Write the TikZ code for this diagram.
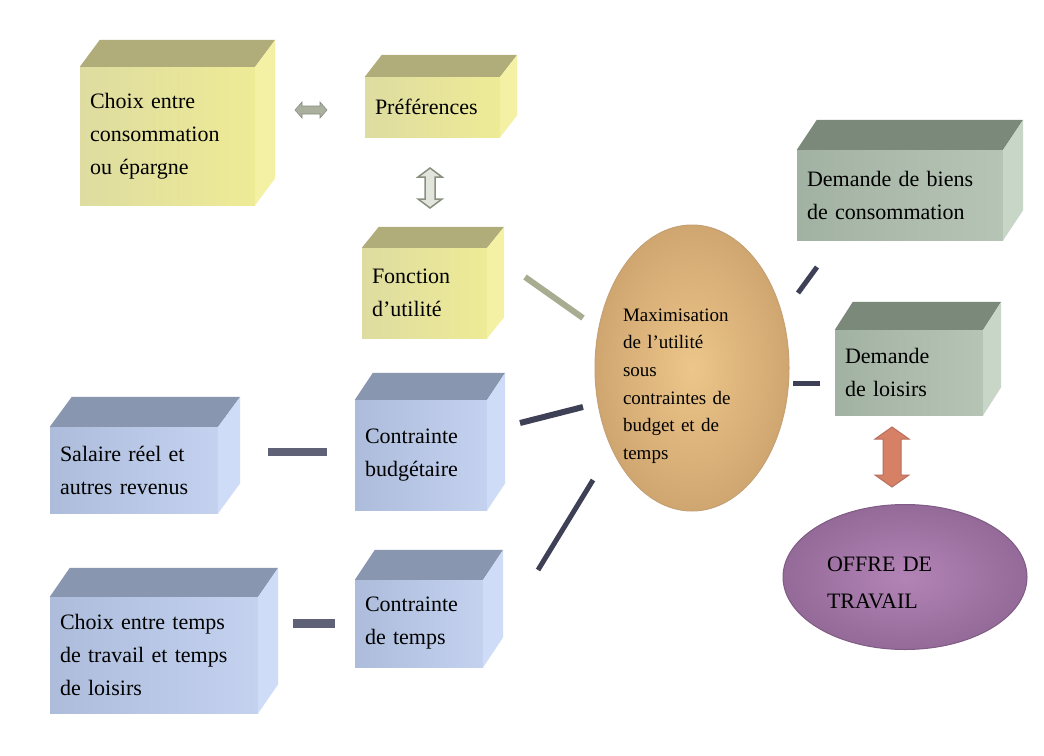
\documentclass[tikz,border=0pt]{standalone}
\usepackage{fontspec}
\setmainfont{Liberation Serif}
\usetikzlibrary{calc,shapes.geometric}
\definecolor{yfrontL}{RGB}{222,220,160}
\definecolor{yfrontR}{RGB}{238,235,150}
\definecolor{ytop}{RGB}{176,173,122}
\definecolor{yside}{RGB}{245,241,164}
\definecolor{bfrontL}{RGB}{172,188,218}
\definecolor{bfrontR}{RGB}{196,210,240}
\definecolor{btop}{RGB}{136,150,176}
\definecolor{bside}{RGB}{206,220,248}
\definecolor{gfrontL}{RGB}{162,178,162}
\definecolor{gfrontR}{RGB}{182,196,182}
\definecolor{gtop}{RGB}{122,137,122}
\definecolor{gside}{RGB}{200,214,200}
\definecolor{ellIn}{RGB}{236,198,138}
\definecolor{ellOut}{RGB}{208,166,112}
\definecolor{ellDraw}{RGB}{196,160,115}
\definecolor{purIn}{RGB}{178,132,182}
\definecolor{purOut}{RGB}{148,106,152}
\definecolor{purDraw}{RGB}{128,92,132}
\definecolor{linkdark}{RGB}{62,64,85}
\definecolor{linkolive}{RGB}{168,172,145}
\definecolor{barcol}{RGB}{95,98,118}
\definecolor{redfill}{RGB}{214,128,102}
\definecolor{reddraw}{RGB}{184,110,94}
\definecolor{grayfill}{RGB}{170,175,158}
\definecolor{grayhollow}{RGB}{226,229,220}
\definecolor{grayline}{RGB}{138,143,128}

\newcommand{\mycube}[5]{% name, top colour, side colour, dx, dy
  \fill[#2] (#1.north west) -- ++(#4,-#5) -- ($(#1.north east)+(#4,-#5)$) -- (#1.north east) -- cycle;
  \fill[#3] (#1.north east) -- ++(#4,-#5) -- ($(#1.south east)+(#4,-#5)$) -- (#1.south east) -- cycle;}
\newcommand{\udarrow}[7]{% style, cx, cy, half length, head length, head half width, shaft half width
  \filldraw[#1] ({#2},{#3-#4}) -- ({#2+#6},{#3-#4+#5}) -- ({#2+#7},{#3-#4+#5}) -- ({#2+#7},{#3+#4-#5})
   -- ({#2+#6},{#3+#4-#5}) -- ({#2},{#3+#4}) -- ({#2-#6},{#3+#4-#5}) -- ({#2-#7},{#3+#4-#5})
   -- ({#2-#7},{#3-#4+#5}) -- ({#2-#6},{#3-#4+#5}) -- cycle;}
\newcommand{\lrarrow}[7]{% style, cx, cy, half length, head length, head half width, shaft half width
  \filldraw[#1] ({#2-#4},{#3}) -- ({#2-#4+#5},{#3-#6}) -- ({#2-#4+#5},{#3-#7}) -- ({#2+#4-#5},{#3-#7})
   -- ({#2+#4-#5},{#3-#6}) -- ({#2+#4},{#3}) -- ({#2+#4-#5},{#3+#6}) -- ({#2+#4-#5},{#3+#7})
   -- ({#2-#4+#5},{#3+#7}) -- ({#2-#4+#5},{#3+#6}) -- cycle;}

\begin{document}
\begin{tikzpicture}[x=1pt,y=-1pt,
  cubebox/.style={rectangle, inner xsep=10pt, inner ysep=0pt, align=left, text=black,
    font=\fontsize{22}{33}\selectfont},
  yfront/.style={cubebox, left color=yfrontL, right color=yfrontR},
  bfront/.style={cubebox, left color=bfrontL, right color=bfrontR},
  gfront/.style={cubebox, left color=gfrontL, right color=gfrontR},
  link/.style={line width=6pt, draw=linkdark},
  olivelink/.style={line width=6pt, draw=linkolive},
  bar/.style={line width=8pt, draw=barcol},
  etext/.style={inner sep=0pt, align=left, text=black}]
\useasboundingbox (0,0) rectangle (1044,755);
\fill[white] (0,0) rectangle (1044,755);

% yellow boxes
\node[yfront, text width=155pt, minimum height=138pt] (A) at (167.5,136) {Choix entre\\consommation\\ou épargne};
\mycube{A}{ytop}{yside}{20}{27}
\node[yfront, text width=115pt, minimum height=60pt] (P) at (432.5,107) {Préférences};
\mycube{P}{ytop}{yside}{17}{22}
\node[yfront, text width=105pt, minimum height=90pt] (F) at (424.5,293) {Fonction\\d'utilité};
\mycube{F}{ytop}{yside}{17}{21}

% blue boxes
\node[bfront, text width=148pt, minimum height=86pt] (S) at (134,470) {Salaire réel et\\autres revenus};
\mycube{S}{btop}{bside}{22}{30}
\node[bfront, text width=112pt, minimum height=110pt] (CB) at (421,455) {Contrainte\\budgétaire};
\mycube{CB}{btop}{bside}{18}{27}
\node[bfront, text width=188pt, minimum height=116pt] (T) at (154,655) {Choix entre temps\\de travail et temps\\de loisirs};
\mycube{T}{btop}{bside}{20}{29}
\node[bfront, text width=108pt, minimum height=87pt] (CT) at (419,623.5) {Contrainte\\de temps};
\mycube{CT}{btop}{bside}{20}{30}

% green boxes
\node[gfront, text width=186pt, minimum height=90pt] (G1) at (900,195) {Demande de biens\\de consommation};
\mycube{G1}{gtop}{gside}{20}{30}
\node[gfront, text width=128pt, minimum height=85pt] (G2) at (909,372.5) {Demande\\de loisirs};
\mycube{G2}{gtop}{gside}{18}{28}

% central ellipse
\node[ellipse, minimum width=194pt, minimum height=286pt, inner sep=0pt,
      inner color=ellIn, outer color=ellOut, draw=ellDraw, line width=1pt] (E) at (692,368) {};
\node[etext, text width=138pt, font=\fontsize{19}{27.6}\selectfont] (Et) at (692,386)
  {Maximisation\\de l'utilité\\sous\\contraintes de\\budget et de\\temps};

% purple ellipse
\node[ellipse, minimum width=244pt, minimum height=145pt, inner sep=0pt,
      inner color=purIn, outer color=purOut, draw=purDraw, line width=1pt] (O) at (905,577) {};
\node[etext, text width=156pt, font=\fontsize{22}{37}\selectfont] (Ot) at (905,583)
  {OFFRE DE\\TRAVAIL};

% connector end points
\coordinate (f1) at (525,277);  \coordinate (f2) at (583,318);
\coordinate (b1) at (520,423);  \coordinate (b2) at (583,407);
\coordinate (t1) at (538,570);  \coordinate (t2) at (593,480);
\coordinate (g1) at (798,293);  \coordinate (g2) at (817,267);
\coordinate (l1) at (793,383);  \coordinate (l2) at (820,383);
\coordinate (s1) at (268,452);  \coordinate (s2) at (327,452);
\coordinate (c1) at (293,623);  \coordinate (c2) at (335,623);

\draw[olivelink] (f1) -- (f2);
\draw[link] (b1) -- (b2);
\draw[link, line width=5pt] (t1) -- (t2);
\draw[link, line width=5pt] (g1) -- (g2);
\draw[link, line width=5pt] (l1) -- (l2);
\draw[bar] (s1) -- (s2);
\draw[bar, line width=9pt] (c1) -- (c2);

% double arrows
\lrarrow{fill=grayfill, draw=grayfill!80!black, line width=0.6pt}{311}{110}{16}{7}{8}{4}
\udarrow{fill=grayhollow, draw=grayline, line width=1.5pt}{430}{188}{20}{9}{12}{5}
\udarrow{fill=redfill, draw=reddraw, line width=1pt}{892}{457}{30}{12}{17}{9}
\end{tikzpicture}
\end{document}
